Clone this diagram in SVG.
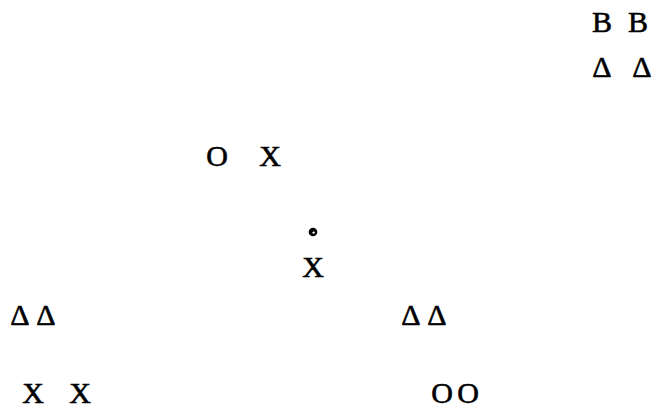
<svg xmlns="http://www.w3.org/2000/svg" width="656" height="410" viewBox="0 0 656 410">
<style>
text{font-family:"Liberation Serif","Times New Roman",serif;font-size:30px;fill:#000;stroke:#000;stroke-width:0.6;text-anchor:middle}
</style>
<rect width="656" height="410" fill="#fff"/>
<g id="b1"><text x="602" y="32">B</text></g>
<g id="b2"><text x="638" y="32">B</text></g>
<g id="d1"><text x="602" y="77">Δ</text></g>
<g id="d2"><text x="642" y="77">Δ</text></g>
<g id="o1"><text x="217" y="166">O</text></g>
<g id="x1"><text x="270" y="166">X</text></g>
<g id="dot"><circle cx="313" cy="232" r="4.3" fill="#000"/><circle cx="313.6" cy="232.6" r="1.2" fill="#fff"/></g>
<g id="x2"><text x="313" y="277">X</text></g>
<g id="d3"><text x="20" y="325">Δ</text></g>
<g id="d4"><text x="46" y="325">Δ</text></g>
<g id="d5"><text x="411" y="325">Δ</text></g>
<g id="d6"><text x="437" y="325">Δ</text></g>
<g id="x3"><text x="33" y="403">X</text></g>
<g id="x4"><text x="80" y="403">X</text></g>
<g id="o2"><text x="442" y="403">O</text></g>
<g id="o3"><text x="468" y="403">O</text></g>
<g id="connectors"></g>
</svg>
